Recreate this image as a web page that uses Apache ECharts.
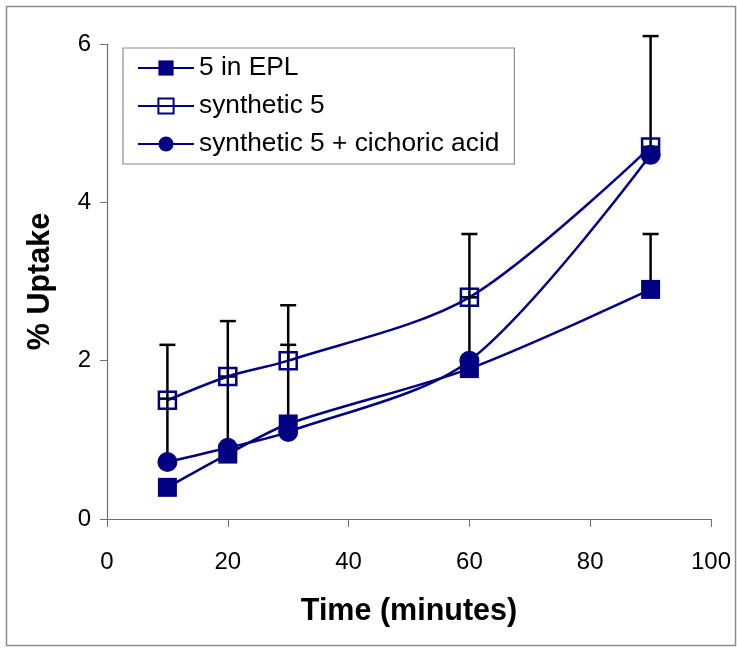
<!DOCTYPE html>
<html>
<head>
<meta charset="utf-8">
<script src="https://cdn.jsdelivr.net/npm/echarts@6/dist/echarts.min.js"></script>
<style>html,body{margin:0;padding:0;background:#fff}#c{width:737px;height:648px}</style>
</head>
<body>
<div id="c"></div>
<script>
// ---- data ----
const times = [10, 20, 30, 60, 90];
const seriesNames = ['5 in EPL', 'synthetic 5', 'synthetic 5 + cichoric acid'];
const eplValues = [0.4, 0.82, 1.2, 1.9, 2.9];
const eplErrors = [0, 0, 0, 0, 0.7];
const synValues = [1.5, 1.8, 2.0, 2.8, 4.7];
const synErrors = [0.7, 0.7, 0.7, 0.8, 1.4];
const cicValues = [0.72, 0.9, 1.1, 2.0, 4.6];
const cicErrors = [0.8, 0.9, 1.1, 0.8, 0.1];
const xTicks = [0, 20, 40, 60, 80, 100];
const yTicks = [0, 2, 4, 6];

const NAVY = '#000080';
const FONT = 'Liberation Sans, Arial, sans-serif';

function pts(vals) { return times.map((t, i) => [t, vals[i]]); }
function errData(vals, errs) { return times.map((t, i) => [t, vals[i], errs[i]]); }

function errorSeries(vals, errs) {
  return {
    type: 'custom',
    silent: true,
    z: 1,
    data: errData(vals, errs),
    renderItem: function (params, api) {
      const x = api.value(0), y = api.value(1), e = api.value(2);
      if (!e) return null;
      const p0 = api.coord([x, y]);
      const p1 = api.coord([x, y + e]);
      const hw = 8;
      return {
        type: 'group',
        children: [
          { type: 'line', shape: { x1: p0[0], y1: p0[1], x2: p1[0], y2: p1[1] }, style: { stroke: '#000', lineWidth: 2.5 } },
          { type: 'line', shape: { x1: p1[0] - hw, y1: p1[1], x2: p1[0] + hw, y2: p1[1] }, style: { stroke: '#000', lineWidth: 2.5 } }
        ]
      };
    }
  };
}

const chart = echarts.init(document.getElementById('c'));
chart.setOption({
  animation: false,
  backgroundColor: '#fff',
  graphic: [{
    type: 'rect', left: 4, top: 4, shape: { width: 729, height: 639 },
    style: { fill: 'none', stroke: '#8c8c8c', lineWidth: 1.5 }, z: -1
  }],
  grid: { left: 107, right: 26, top: 44, bottom: 129 },
  legend: {
    left: 123, top: 48, orient: 'vertical',
    padding: [7, 15, 7, 14],
    borderColor: '#8c8c8c', borderWidth: 1.2,
    itemWidth: 56, itemHeight: 19, itemGap: 12,
    data: seriesNames,
    textStyle: { fontFamily: FONT, fontSize: 26.3, color: '#000', lineHeight: 26 }
  },
  xAxis: {
    type: 'value', min: 0, max: 100, interval: 20,
    axisLine: { lineStyle: { color: '#6e6e6e', width: 1.2 } },
    axisTick: { show: true, length: 8, lineStyle: { color: '#6e6e6e' } },
    splitLine: { show: false },
    axisLabel: { fontFamily: FONT, fontSize: 24, color: '#000', margin: 31,
      formatter: v => xTicks.includes(v) ? String(v) : '' },
    name: 'Time (minutes)', nameLocation: 'middle', nameGap: 77,
    nameTextStyle: { fontFamily: FONT, fontSize: 30.5, fontWeight: 'bold', color: '#000' }
  },
  yAxis: {
    type: 'value', min: 0, max: 6, interval: 2,
    axisLine: { show: true, lineStyle: { color: '#6e6e6e', width: 1.2 } },
    axisTick: { show: true, length: 7, lineStyle: { color: '#6e6e6e' } },
    splitLine: { show: false },
    axisLabel: { fontFamily: FONT, fontSize: 24, color: '#000', margin: 16,
      formatter: v => yTicks.includes(v) ? String(v) : '' },
    name: '% Uptake', nameLocation: 'middle', nameGap: 51, nameRotate: 90,
    nameTextStyle: { fontFamily: FONT, fontSize: 30.5, fontWeight: 'bold', color: '#000' }
  },
  series: [
    errorSeries(eplValues, eplErrors),
    errorSeries(synValues, synErrors),
    errorSeries(cicValues, cicErrors),
    {
      name: seriesNames[0], type: 'line', z: 3, smooth: 0.3,
      data: pts(eplValues),
      symbol: 'rect', symbolSize: 19,
      itemStyle: { color: NAVY },
      lineStyle: { color: NAVY, width: 2.5 }
    },
    {
      name: seriesNames[1], type: 'line', z: 3, smooth: 0.3,
      data: pts(synValues),
      symbol: 'rect', symbolSize: 17,
      itemStyle: { color: 'rgba(255,255,255,0)', borderColor: NAVY, borderWidth: 2.5 },
      lineStyle: { color: NAVY, width: 2.5 }
    },
    {
      name: seriesNames[2], type: 'line', z: 3, smooth: 0.3,
      data: pts(cicValues),
      symbol: 'circle', symbolSize: 20,
      itemStyle: { color: NAVY },
      lineStyle: { color: NAVY, width: 2.5 }
    }
  ]
});
</script>
</body>
</html>
